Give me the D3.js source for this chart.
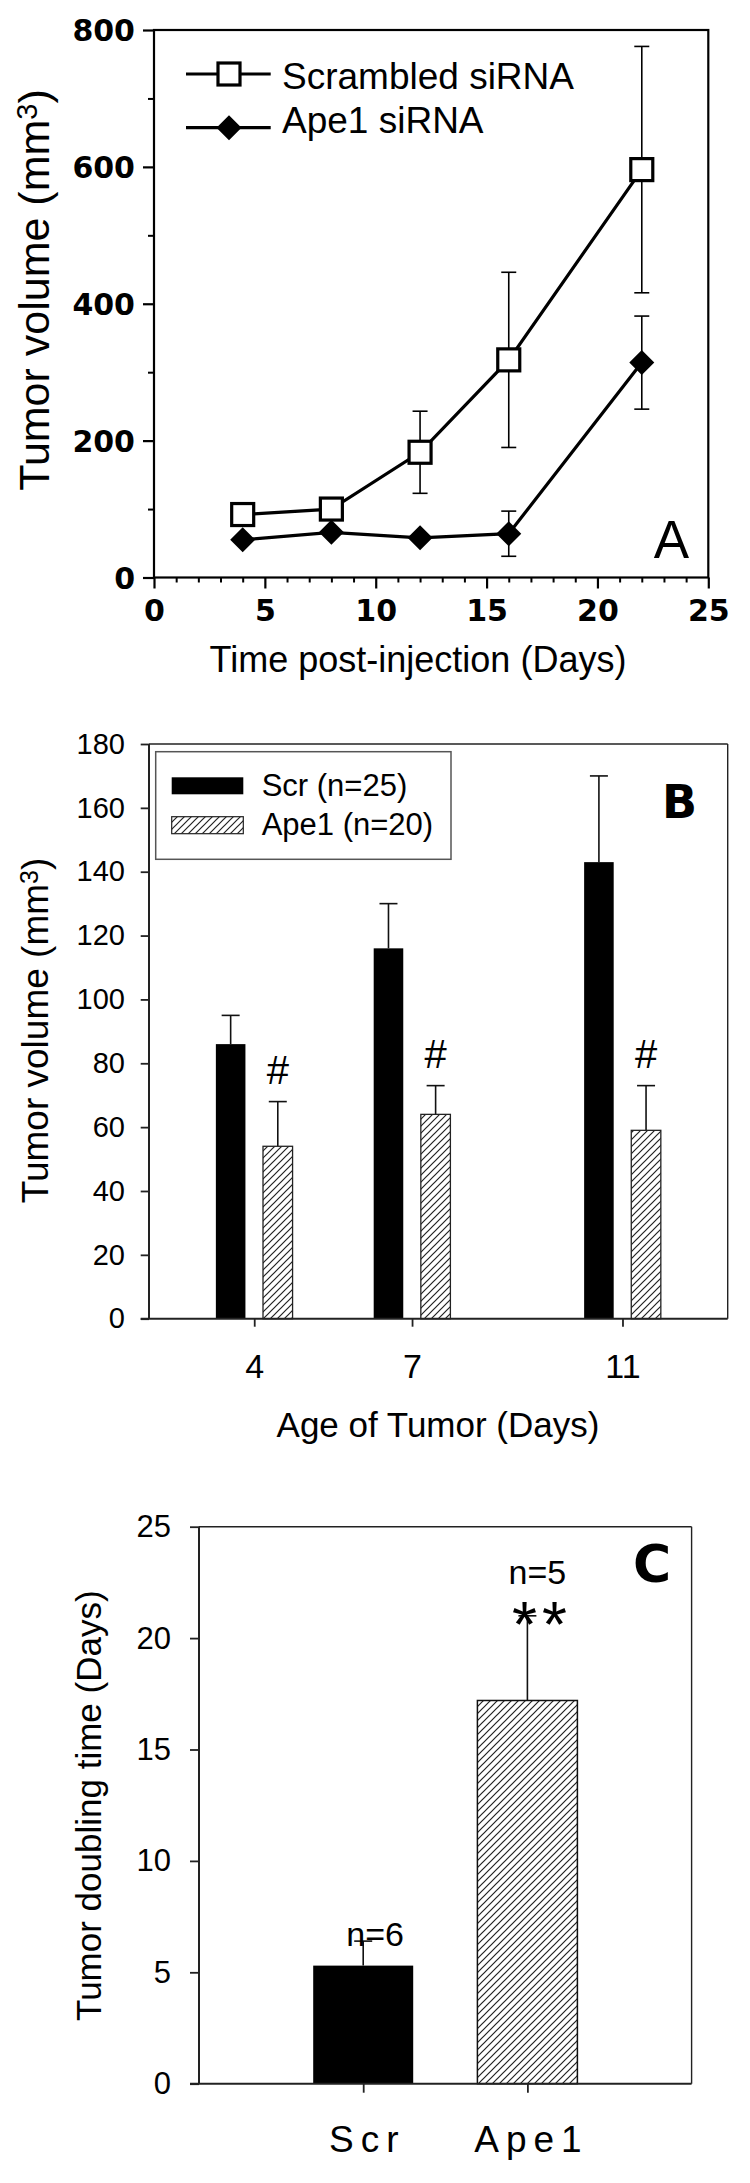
<!DOCTYPE html>
<html><head><meta charset="utf-8">
<script src="https://cdn.jsdelivr.net/npm/d3@7"></script>
<style>body{margin:0;background:#fff} svg{display:block}</style>
</head><body>
<svg id="chart" width="750" height="2183"></svg>
<script>
// ---------- Panel A ----------
const aDays = [4, 8, 12, 16, 22];
const aScrambled = [92, 100, 183, 318, 596];
const aScrambledErr = [8, 8, 60, 128, 180];
const aApe1 = [55, 66, 58, 64, 314];
const aApe1Err = [5, 5, 5, 33, 68];
const aXTicks = [0, 5, 10, 15, 20, 25];
const aYTicks = [0, 200, 400, 600, 800];
const aSeriesNames = ['Scrambled siRNA', 'Ape1 siRNA'];

// ---------- Panel B ----------
const bDays = [4, 7, 11];
const bScr = [86, 116, 143];
const bScrErr = [9, 14, 27];
const bApe1 = [54, 64, 59];
const bApe1Err = [14, 9, 14];
const bSig = ['#', '#', '#'];
const bYTicks = [0, 20, 40, 60, 80, 100, 120, 140, 160, 180];
const bSeriesNames = ['Scr (n=25)', 'Ape1 (n=20)'];

// ---------- Panel C ----------
const cGroups = ['Scr', 'Ape1'];
const cValues = [5.3, 17.2];
const cErr = [1.1, 3.8];
const cN = ['n=6', 'n=5'];
const cSig = ['', '**'];
const cYTicks = [0, 5, 10, 15, 20, 25];

const SANS = 'Liberation Sans, Arial, sans-serif';
const WIDE = 'DejaVu Sans, Verdana, sans-serif';

const svg = d3.select('#chart');
svg.append('rect').attr('width', 750).attr('height', 2183).attr('fill', '#fff');

const defs = svg.append('defs');
const pat = defs.append('pattern').attr('id', 'hatch').attr('patternUnits', 'userSpaceOnUse')
  .attr('width', 7).attr('height', 7);
pat.append('rect').attr('width', 7).attr('height', 7).attr('fill', '#fff');
pat.append('path').attr('d', 'M-1,1 l2,-2 M0,7 l7,-7 M6,8 l2,-2')
  .attr('stroke', '#222').attr('stroke-width', 1.2);

function styleAxis(g, sw, color) {
  g.selectAll('path.domain').remove();
  g.selectAll('line').attr('stroke', color).attr('stroke-width', sw);
}

// ================= PANEL A =================
(function () {
  const x = d3.scaleLinear().domain([0, 25]).range([154, 708.3]);
  const y = d3.scaleLinear().domain([0, 800]).range([577.5, 30]);
  const g = svg.append('g');

  const gym = g.append('g').attr('transform', `translate(${x(0)},0)`)
    .call(d3.axisLeft(y).tickValues([100, 300, 500, 700]).tickSize(6).tickFormat(''));
  styleAxis(gym, 2, '#000');
  const gxm = g.append('g').attr('transform', `translate(0,${y(0)})`)
    .call(d3.axisBottom(x).tickValues(d3.range(0, 26).filter(d => d % 5 !== 0)).tickSize(5).tickFormat(''));
  styleAxis(gxm, 2, '#000');

  const gy = g.append('g').attr('transform', `translate(${x(0)},0)`)
    .call(d3.axisLeft(y).tickValues(aYTicks).tickSize(11).tickPadding(8).tickFormat(d3.format('d')));
  styleAxis(gy, 2.2, '#000');
  gy.selectAll('text').attr('font-family', WIDE).attr('font-weight', 'bold').attr('font-size', 30)
    .attr('fill', '#000').attr('dy', '0.36em');

  const gx = g.append('g').attr('transform', `translate(0,${y(0)})`)
    .call(d3.axisBottom(x).tickValues(aXTicks).tickSize(11).tickPadding(11));
  styleAxis(gx, 2.2, '#000');
  gx.selectAll('text').attr('font-family', WIDE).attr('font-weight', 'bold').attr('font-size', 30).attr('fill', '#000');

  g.append('rect').attr('x', x(0)).attr('y', y(800)).attr('width', x(25) - x(0)).attr('height', y(0) - y(800))
    .attr('fill', 'none').attr('stroke', '#000').attr('stroke-width', 2.2);

  const series = [
    { vals: aScrambled, errs: aScrambledErr, type: 'square' },
    { vals: aApe1, errs: aApe1Err, type: 'diamond' }
  ];
  series.forEach(s => {
    const eg = g.append('g').attr('stroke', '#000').attr('stroke-width', 1.6);
    aDays.forEach((d, i) => {
      const v = s.vals[i], e = s.errs[i];
      eg.append('line').attr('x1', x(d)).attr('x2', x(d)).attr('y1', y(v - e)).attr('y2', y(v + e));
      [v - e, v + e].forEach(t => eg.append('line').attr('x1', x(d) - 7.5).attr('x2', x(d) + 7.5).attr('y1', y(t)).attr('y2', y(t)));
    });
  });
  const line = d3.line().x((d, i) => x(aDays[i])).y(d => y(d));
  series.forEach(s => {
    g.append('path').attr('d', line(s.vals)).attr('fill', 'none').attr('stroke', '#000').attr('stroke-width', 3.2);
  });
  const diamond = 'M0,-12.5L12.5,0L0,12.5L-12.5,0Z';
  function marker(sel, type, cx, cy) {
    if (type === 'square') {
      sel.append('rect').attr('x', cx - 11).attr('y', cy - 11).attr('width', 22).attr('height', 22)
        .attr('fill', '#fff').attr('stroke', '#000').attr('stroke-width', 3.2);
    } else {
      sel.append('path').attr('d', diamond).attr('transform', `translate(${cx},${cy})`).attr('fill', '#000');
    }
  }
  series.forEach(s => aDays.forEach((d, i) => marker(g, s.type, x(d), y(s.vals[i]))));

  const legY = [74, 127.7];
  const legBase = [88.5, 133];
  series.forEach((s, i) => {
    g.append('line').attr('x1', 186).attr('x2', 270.7).attr('y1', legY[i]).attr('y2', legY[i])
      .attr('stroke', '#000').attr('stroke-width', 3.2);
    marker(g, s.type, 229, legY[i]);
    g.append('text').attr('x', 282).attr('y', legBase[i]).text(aSeriesNames[i])
      .attr('font-family', SANS).attr('font-size', 37).attr('fill', '#000');
  });

  g.append('text').attr('x', 671.5).attr('y', 558).attr('text-anchor', 'middle')
    .attr('font-family', SANS).attr('font-size', 53).text('A');

  g.append('text').attr('x', 418).attr('y', 671.7).attr('text-anchor', 'middle')
    .attr('font-family', SANS).attr('font-size', 36).text('Time post-injection (Days)');

  const yt = g.append('text').attr('transform', 'translate(49,290) rotate(-90)').attr('text-anchor', 'middle')
    .attr('font-family', SANS).attr('font-size', 43);
  yt.append('tspan').text('Tumor volume (mm');
  yt.append('tspan').attr('font-size', 29).attr('baseline-shift', '40%').text('3');
  yt.append('tspan').text(')');
})();

// ================= PANEL B =================
(function () {
  const x = d3.scaleLinear().domain([2, 13]).range([149, 727.7]);
  const y = d3.scaleLinear().domain([0, 180]).range([1318.7, 744]);
  const g = svg.append('g');
  const AX = '#222';
  const bw = 0.562, off = 0.448;

  const groups = [
    { vals: bScr, errs: bScrErr, shift: -off, fill: '#000', stroke: 'none' },
    { vals: bApe1, errs: bApe1Err, shift: off, fill: 'url(#hatch)', stroke: '#222' }
  ];
  groups.forEach(s => {
    bDays.forEach((d, i) => {
      const c = d + s.shift;
      g.append('line').attr('x1', x(c)).attr('x2', x(c)).attr('y1', y(s.vals[i])).attr('y2', y(s.vals[i] + s.errs[i]))
        .attr('stroke', '#111').attr('stroke-width', 1.6);
      g.append('line').attr('x1', x(c) - 9).attr('x2', x(c) + 9)
        .attr('y1', y(s.vals[i] + s.errs[i])).attr('y2', y(s.vals[i] + s.errs[i]))
        .attr('stroke', '#111').attr('stroke-width', 1.6);
      g.append('rect').attr('x', x(c - bw / 2)).attr('width', x(c + bw / 2) - x(c - bw / 2))
        .attr('y', y(s.vals[i])).attr('height', y(0) - y(s.vals[i]))
        .attr('fill', s.fill).attr('stroke', s.stroke).attr('stroke-width', 1.3);
    });
  });
  bDays.forEach((d, i) => {
    g.append('text').attr('x', x(d + off)).attr('y', y(bApe1[i] + bApe1Err[i]) - 18)
      .attr('text-anchor', 'middle').attr('font-family', SANS).attr('font-size', 40).text(bSig[i]);
  });

  const gy = g.append('g').attr('transform', `translate(${x(2)},0)`)
    .call(d3.axisLeft(y).tickValues(bYTicks).tickSize(8.3).tickPadding(15.7));
  styleAxis(gy, 1.8, AX);
  gy.selectAll('text').attr('font-family', SANS).attr('font-size', 29).attr('fill', '#000');
  const gx = g.append('g').attr('transform', `translate(0,${y(0)})`)
    .call(d3.axisBottom(x).tickValues(bDays).tickSize(8).tickPadding(27));
  styleAxis(gx, 1.8, AX);
  gx.selectAll('text').attr('font-family', SANS).attr('font-size', 34).attr('fill', '#000');
  g.append('line').attr('x1', x(2)).attr('x2', x(2)).attr('y1', y(180)).attr('y2', y(0)).attr('stroke', AX).attr('stroke-width', 2);
  g.append('line').attr('x1', x(2) - 8.3).attr('x2', x(13)).attr('y1', y(0)).attr('y2', y(0)).attr('stroke', AX).attr('stroke-width', 2);
  g.append('line').attr('x1', x(2)).attr('x2', x(13)).attr('y1', y(180)).attr('y2', y(180)).attr('stroke', AX).attr('stroke-width', 1.4);
  g.append('line').attr('x1', x(13)).attr('x2', x(13)).attr('y1', y(180)).attr('y2', y(0)).attr('stroke', AX).attr('stroke-width', 1.4);

  g.append('rect').attr('x', 155.7).attr('y', 751.7).attr('width', 295.3).attr('height', 107.6)
    .attr('fill', '#fff').attr('stroke', '#555').attr('stroke-width', 1.5);
  const sw = [777.3, 816.7], tb = [796, 835];
  groups.forEach((s, i) => {
    g.append('rect').attr('x', 171.7).attr('y', sw[i]).attr('width', 71.6).attr('height', 17)
      .attr('fill', s.fill).attr('stroke', s.stroke === 'none' ? 'none' : '#222').attr('stroke-width', 1.2);
    g.append('text').attr('x', 261.7).attr('y', tb[i]).attr('font-family', SANS).attr('font-size', 31).text(bSeriesNames[i]);
  });

  g.append('text').attr('x', 679.5).attr('y', 818).attr('text-anchor', 'middle')
    .attr('font-family', WIDE).attr('font-weight', 'bold').attr('font-size', 46).text('B');

  g.append('text').attr('x', 438).attr('y', 1437).attr('text-anchor', 'middle')
    .attr('font-family', SANS).attr('font-size', 35).text('Age of Tumor (Days)');

  const yt = g.append('text').attr('transform', 'translate(47.8,1030.5) rotate(-90)').attr('text-anchor', 'middle')
    .attr('font-family', SANS).attr('font-size', 37);
  yt.append('tspan').text('Tumor volume (mm');
  yt.append('tspan').attr('font-size', 25).attr('baseline-shift', '40%').text('3');
  yt.append('tspan').text(')');
})();

// ================= PANEL C =================
(function () {
  const x = d3.scalePoint().domain(cGroups).range([199, 691.6]).padding(1);
  const y = d3.scaleLinear().domain([0, 25]).range([2083.7, 1526.7]);
  const g = svg.append('g');
  const AX = '#222';
  const bwPx = 100;
  const fills = ['#000', 'url(#hatch)'];

  cGroups.forEach((c, i) => {
    const v = cValues[i], e = cErr[i];
    g.append('line').attr('x1', x(c)).attr('x2', x(c)).attr('y1', y(v)).attr('y2', y(v + e))
      .attr('stroke', '#111').attr('stroke-width', 1.6);
    g.append('line').attr('x1', x(c) - 9).attr('x2', x(c) + 9).attr('y1', y(v + e)).attr('y2', y(v + e))
      .attr('stroke', '#111').attr('stroke-width', 1.6);
    g.append('rect').attr('x', x(c) - bwPx / 2).attr('width', bwPx).attr('y', y(v)).attr('height', y(0) - y(v))
      .attr('fill', fills[i]).attr('stroke', i ? '#111' : 'none').attr('stroke-width', 1.5);
  });

  cGroups.forEach((c, i) => {
    const top = y(cValues[i] + cErr[i]);
    if (cSig[i]) {
      g.append('text').attr('x', x(c) + 12).attr('y', top + 31).attr('text-anchor', 'middle')
        .attr('font-family', SANS).attr('font-size', 64).attr('letter-spacing', 5).attr('dx', 2.5).text(cSig[i]);
      g.append('text').attr('x', x(c) + 10).attr('y', top - 32).attr('text-anchor', 'middle')
        .attr('font-family', SANS).attr('font-size', 34).text(cN[i]);
    } else {
      g.append('text').attr('x', x(c) + 12).attr('y', top + 5).attr('text-anchor', 'middle')
        .attr('font-family', SANS).attr('font-size', 34).text(cN[i]);
    }
  });

  const gy = g.append('g').attr('transform', `translate(199,0)`)
    .call(d3.axisLeft(y).tickValues(cYTicks).tickSize(9).tickPadding(19));
  styleAxis(gy, 1.8, AX);
  gy.selectAll('text').attr('font-family', SANS).attr('font-size', 31).attr('fill', '#000');
  const gx = g.append('g').attr('transform', `translate(0,${y(0)})`)
    .call(d3.axisBottom(x).tickSize(9).tickPadding(33));
  styleAxis(gx, 1.8, AX);
  gx.selectAll('text').attr('font-family', SANS).attr('font-size', 37).attr('letter-spacing', 7)
    .attr('dx', 3.5).attr('fill', '#000');

  g.append('line').attr('x1', 199).attr('x2', 199).attr('y1', y(25)).attr('y2', y(0)).attr('stroke', AX).attr('stroke-width', 2);
  g.append('line').attr('x1', 190).attr('x2', 691.6).attr('y1', y(0)).attr('y2', y(0)).attr('stroke', AX).attr('stroke-width', 2);
  g.append('line').attr('x1', 199).attr('x2', 691.6).attr('y1', y(25)).attr('y2', y(25)).attr('stroke', AX).attr('stroke-width', 1.4);
  g.append('line').attr('x1', 691.6).attr('x2', 691.6).attr('y1', y(25)).attr('y2', y(0)).attr('stroke', AX).attr('stroke-width', 1.4);

  g.append('text').attr('x', 652).attr('y', 1582).attr('text-anchor', 'middle')
    .attr('font-family', WIDE).attr('font-weight', 'bold').attr('font-size', 52).text('C');

  g.append('text').attr('transform', 'translate(101,1805.7) rotate(-90)').attr('text-anchor', 'middle')
    .attr('font-family', SANS).attr('font-size', 35).text('Tumor doubling time (Days)');
})();
</script>
</body></html>
